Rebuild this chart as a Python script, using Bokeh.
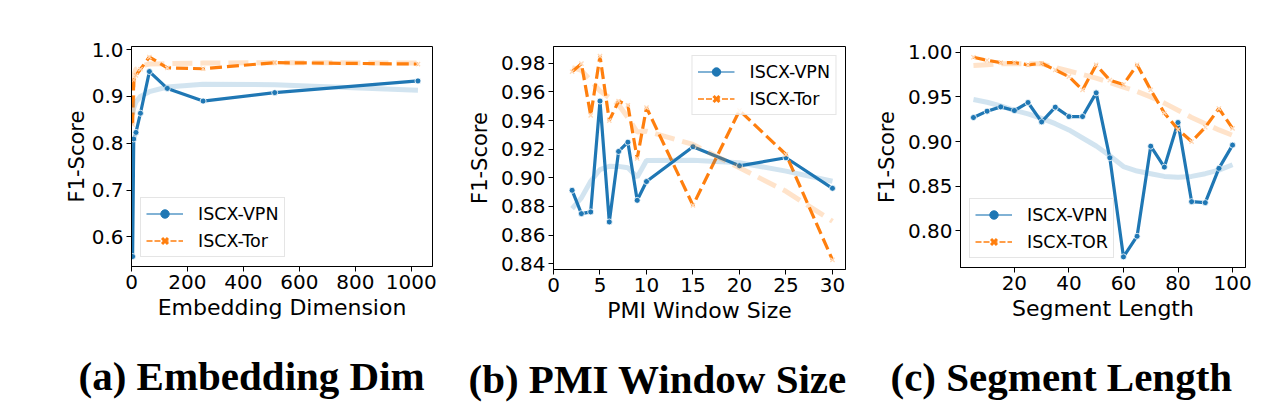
from bokeh.plotting import figure
from bokeh.models import Range1d, FixedTicker, Legend, LegendItem, Title, PrintfTickFormatter
from bokeh.layouts import row
from bokeh.embed import file_html
from bokeh.resources import INLINE

BLUE = "#1f77b4"
ORANGE = "#ff7f0e"

# (a) Embedding dimension
emb_dim = [4, 8, 16, 32, 64, 128, 256, 512, 1024]
emb_vpn = [0.558, 0.809, 0.823, 0.864, 0.953, 0.917, 0.890, 0.908, 0.933]
emb_tor = [0.840, 0.935, 0.945, 0.958, 0.984, 0.961, 0.959, 0.972, 0.969]
emb_vpn_trend = [0.862, 0.875, 0.888, 0.900, 0.910, 0.920, 0.926, 0.925, 0.913]
emb_tor_trend = [0.860, 0.945, 0.958, 0.965, 0.969, 0.970, 0.971, 0.972, 0.971]

# (b) PMI window size
win = [2, 3, 4, 5, 6, 7, 8, 9, 10, 15, 20, 25, 30]
win_vpn = [0.8913, 0.8750, 0.8762, 0.9536, 0.8692, 0.9184, 0.9249, 0.8843, 0.8974, 0.9217, 0.9084, 0.9140, 0.8927]
win_tor = [0.9741, 0.9797, 0.9436, 0.9850, 0.9400, 0.9536, 0.9506, 0.9135, 0.9490, 0.8808, 0.9470, 0.9163, 0.8427]
win_vpn_trend = [0.8785, 0.8860, 0.8976, 0.9058, 0.9081, 0.9080, 0.9070, 0.9005, 0.9121, 0.9123, 0.9105, 0.9047, 0.8976]
win_tor_trend = [0.9769, 0.9750, 0.9680, 0.9606, 0.9560, 0.9510, 0.9420, 0.9320, 0.9326, 0.9233, 0.9070, 0.8906, 0.8697]

# (c) Segment length
seg = [5, 10, 15, 20, 25, 30, 35, 40, 45, 50, 55, 60, 65, 70, 75, 80, 85, 90, 95, 100]
seg_vpn = [0.9269, 0.9340, 0.9388, 0.9347, 0.9437, 0.9220, 0.9385, 0.9280, 0.9280, 0.9545,
           0.8818, 0.7709, 0.7940, 0.8948, 0.8714, 0.9213, 0.8327, 0.8316, 0.8700, 0.8960]
seg_tor = [0.9944, 0.9910, 0.9884, 0.9884, 0.9858, 0.9876, 0.9802, 0.9727, 0.9578, 0.9858,
           0.9687, 0.9638, 0.9860, 0.9578, 0.9320, 0.9135, 0.9000, 0.9160, 0.9370, 0.9147]
seg_vpn_trend = [0.947, 0.944, 0.940, 0.935, 0.931, 0.926, 0.920, 0.913, 0.904, 0.895,
                 0.884, 0.872, 0.867, 0.864, 0.861, 0.860, 0.861, 0.864, 0.868, 0.874]
seg_tor_trend = [0.985, 0.986, 0.987, 0.987, 0.987, 0.987, 0.983, 0.979, 0.975, 0.971,
                 0.966, 0.961, 0.956, 0.950, 0.943, 0.935, 0.927, 0.920, 0.913, 0.907]

FONT = "DejaVu Sans"


def make_panel(x, vpn, tor, vpn_t, tor_t, xr, yr, xticks, yticks, yfmt, xlabel,
               caption, labels, legend_loc, borders, frame_w, frame_h, cap_offset,
               ylab_standoff):
    left, right, top, bottom = borders
    p = figure(frame_width=frame_w, frame_height=frame_h,
               min_border_left=left, min_border_right=right,
               min_border_top=top, min_border_bottom=bottom,
               x_range=Range1d(*xr), y_range=Range1d(*yr),
               output_backend="svg", toolbar_location=None,
               background_fill_color="white", border_fill_color="white")
    p.grid.visible = False
    p.outline_line_color = "black"
    p.outline_line_width = 1
    for ax in (p.xaxis[0], p.yaxis[0]):
        ax.axis_line_color = "black"
        ax.axis_line_width = 1
        ax.major_tick_out = 5
        ax.major_tick_in = 0
        ax.minor_tick_out = 0
        ax.minor_tick_in = 0
        ax.major_label_text_font = FONT
        ax.major_label_text_font_size = "20px"
        ax.major_label_text_color = "black"
        ax.axis_label_text_font = FONT
        ax.axis_label_text_font_style = "normal"
        ax.axis_label_text_color = "black"
        ax.major_label_standoff = 3
    p.xaxis[0].axis_label_text_font_size = "22px"
    p.yaxis[0].axis_label_text_font_size = "21px"
    p.xaxis[0].ticker = FixedTicker(ticks=xticks)
    p.yaxis[0].ticker = FixedTicker(ticks=yticks)
    p.yaxis[0].formatter = PrintfTickFormatter(format=yfmt)
    p.xaxis[0].axis_label = xlabel
    p.yaxis[0].axis_label = "F1-Score"
    p.xaxis[0].axis_label_standoff = 3
    p.yaxis[0].axis_label_standoff = ylab_standoff

    # main lines
    p.line(x, vpn, line_color=BLUE, line_width=3.2)
    p.scatter(x, vpn, marker="circle", size=6, fill_color=BLUE,
              line_color="white", line_width=0.8)
    p.line(x, tor, line_color=ORANGE, line_width=3.2, line_dash="12 5")
    p.scatter(x, tor, marker="x", size=6, line_color="#ffd9b8", line_width=1.3)

    # smoothed trend lines (drawn on top, translucent)
    p.line(x, vpn_t, line_color=BLUE, line_width=5, line_alpha=0.2)
    p.line(x, tor_t, line_color=ORANGE, line_width=5, line_alpha=0.22, line_dash="20 8")

    # legend handles (hidden renderers, only used to draw the legend glyphs)
    lv = p.line(x, vpn, line_color=BLUE, line_width=1.6, line_alpha=0.75, visible=False)
    mv = p.scatter(x, vpn, marker="circle", size=7, fill_color=BLUE, line_color=BLUE,
                   visible=False)
    lt = p.line(x, tor, line_color=ORANGE, line_width=1.6, line_dash="6 2", visible=False)
    mt = p.scatter(x, tor, marker="x", size=8, line_color=ORANGE, line_width=3,
                   visible=False)
    leg = Legend(items=[LegendItem(label=labels[0], renderers=[lv, mv]),
                        LegendItem(label=labels[1], renderers=[lt, mt])],
                 location=legend_loc)
    leg.label_text_font = FONT
    leg.label_text_font_size = "17.5px"
    leg.label_text_color = "black"
    leg.glyph_width = 37
    leg.glyph_height = 21
    leg.label_height = 21
    leg.label_standoff = 15
    leg.spacing = 6
    leg.padding = 5
    leg.margin = 9
    leg.border_line_color = "#cccccc"
    leg.border_line_width = 1
    leg.background_fill_color = "white"
    leg.background_fill_alpha = 0.8
    leg.inactive_fill_alpha = 0
    p.add_layout(leg)

    cap = Title(text=caption, align="left", offset=cap_offset,
                text_font="Liberation Serif", text_font_style="bold",
                text_font_size="41px", text_color="black", standoff=57)
    p.add_layout(cap, "below")
    return p


pa = make_panel(emb_dim, emb_vpn, emb_tor, emb_vpn_trend, emb_tor_trend,
                (0, 1076), (0.5367, 1.0065), [0, 200, 400, 600, 800, 1000],
                [0.6, 0.7, 0.8, 0.9, 1.0], "%.1f", "Embedding Dimension",
                "(a) Embedding Dim", ["ISCX-VPN", "ISCX-Tor"], "bottom_left",
                (131, 28, 46, 145), 301, 220, -53, 0)
pb = make_panel(win, win_vpn, win_tor, win_vpn_trend, win_tor_trend,
                (0, 31.4), (0.836, 0.9917), [0, 5, 10, 15, 20, 25, 30],
                [0.84, 0.86, 0.88, 0.90, 0.92, 0.94, 0.96, 0.98], "%.2f",
                "PMI Window Size", "(b) PMI Window Size", ["ISCX-VPN", "ISCX-Tor"],
                "top_right", (93, 25, 42, 145), 292, 223, -85, 6)
pc = make_panel(seg, seg_vpn, seg_tor, seg_vpn_trend, seg_tor_trend,
                (0.25, 104.75), (0.759, 1.0064), [0, 20, 40, 60, 80, 100],
                [0.80, 0.85, 0.90, 0.95, 1.00], "%.2f", "Segment Length",
                "(c) Segment Length", ["ISCX-VPN", "ISCX-TOR"], "bottom_left",
                (90, 30, 44, 145), 285, 221, -70, 6)

layout = row(pa, pb, pc)
open("out.html", "w").write(file_html(layout, INLINE))
